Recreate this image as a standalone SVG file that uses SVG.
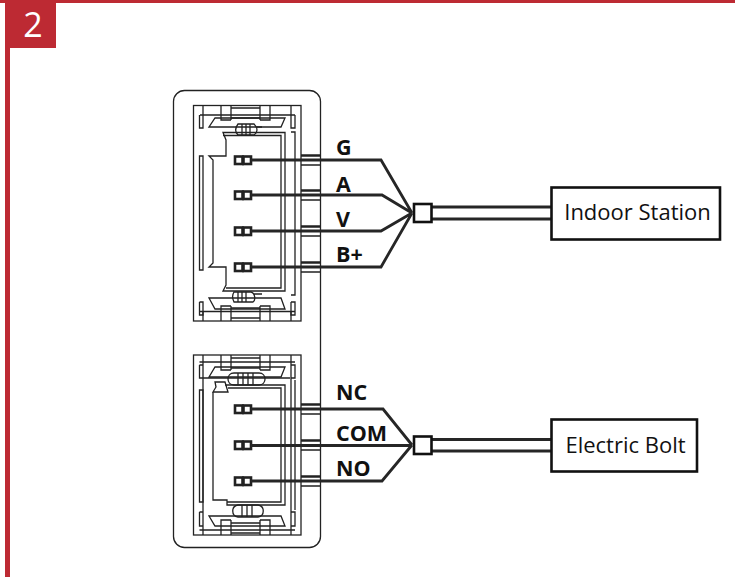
<svg xmlns="http://www.w3.org/2000/svg" width="735" height="577" viewBox="0 0 735 577">
<style>
.l{fill:none;stroke:#222;stroke-width:1.3}
.w{fill:none;stroke:#262626;stroke-width:2.8;stroke-linejoin:miter}
.p{fill:#fff;stroke:#222;stroke-width:2.6}
.b{fill:#fff;stroke:#111;stroke-width:2.6}
.t{font-family:"Open Sans","Noto Sans",sans-serif;fill:#111}
.s{font-size:21.500px;font-weight:700}
.n{font-size:22px}
</style>
<defs>
<g id="pin">
<rect class="p" x="235" y="-3.500" width="7.500" height="7.500"/>
<rect class="p" x="243.500" y="-3.500" width="7.500" height="7.500"/>
<path d="M301 -5H320M301 5H320M301 -4H320" class="l"/>
</g>
</defs>
<g id="header">
<rect x="0" y="0" width="735" height="3" fill="#bd2a33"/>
<rect x="5" y="0" width="5" height="577" fill="#bd2a33"/>
<rect x="5" y="0" width="51" height="48" fill="#bd2a33"/>
<text x="33" y="37" text-anchor="middle" font-family="Open Sans,sans-serif" font-size="34" fill="#fff">2</text>
</g>
<g id="housing">
<rect class="l" x="173.500" y="90.500" width="147" height="457" rx="11"/>
</g>
<g id="connector-top" class="l">
<rect x="193.500" y="105.500" width="107.500" height="215.500"/>
<path d="M203 105.500V115H291V105.500M203 321V311.500H291V321M200 115H295M200 311.500H295"/>
<path d="M199.500 115V128H203V115M291 115V128H295V115M199.500 302V315H203V302H199.500M291 302V315H295V302H291"/>
<path d="M199.500 156V270H203V156ZM291 132H295V295H291"/>
<path d="M221 105.500V120H231M260 120H270V105.500M260 105.500V120M231 105.500V120M231 108H260V118H231ZM221 321V306H231M260 306H270V321M260 321V306M231 321V306M231 318H260V308H231Z"/>
<path d="M209 127H281L285 118H215ZM209 298H281L285 309H215Z"/>
<path d="M238 124H254C258 128 258 132 254 135H238C235 132 235 128 238 124ZM242 124V135M246 124V135M250 124V135M257 127H262"/>
<path d="M234 292H251C255 293 256 300 253 302H234C232 298 232 295 234 292ZM238 292V302M242 292V302M246 292V302M254 294H262"/>
<path d="M223 132.500H285V291H223L226 285V267H209L213 263V160L209 156H226V140ZM223 135.500H281V288H226"/>
</g>
<g id="connector-bottom" class="l">
<rect x="193.500" y="355" width="107.500" height="180"/>
<path d="M203 355V535M291 355V535M199.500 362H295M199.500 530H295"/>
<path d="M199.500 365V378H203M199.500 365H203M291 365H295V378H291M199.500 512V526H203M199.500 512H203M291 512H295V526H291M203 378H290"/>
<path d="M199.500 390V502H203V390ZM295 380V510"/>
<path d="M221 355V370H231M260 370H270V355M260 355V370M231 355V370M231 358H260V368H231ZM221 535V520H231M260 520H270V535M260 535V520M231 535V520M231 533H260V523H231Z"/>
<path d="M209 377H281L285 367H215ZM209 516H281L285 526H215Z"/>
<path d="M234 373H259C267 373 267 385 259 385H234C226 385 226 373 234 373ZM238 373V385M243 373V385M248 373V385M253 373V385"/>
<path d="M238 505H258C265 506 265 516 258 517H238C231 516 231 506 238 505ZM242 505V517M247 505V517M252 505V517"/>
<path d="M215 382H225L228 392H213L216 387ZM225 385H285V505H227V500H213V392M228 388H281V502H227"/>
</g>
<g id="connectors">
<use href="#pin" x="0" y="160"/>
<use href="#pin" x="0" y="195"/>
<use href="#pin" x="0" y="231"/>
<use href="#pin" x="0" y="267"/>
<use href="#pin" x="0" y="409"/>
<use href="#pin" x="0" y="445"/>
<use href="#pin" x="0" y="481"/>
<path class="w" d="M251 160H381L412 213M251 195H382L412 213M251 231H381L412 213M251 267H381L412 213"/>
<path class="w" d="M251 409H383L412 445M251 445.500H412M251 481H382L412 445"/>
<path class="w" d="M431 207H552M431 219H552M431 439.500H552M431 451H552"/>
</g>
<g id="junction-1"><rect class="b" x="414" y="204" width="17.500" height="18"/></g>
<g id="junction-2"><rect class="b" x="414" y="436.500" width="17.500" height="17.500"/></g>
<g id="indoor-station"><rect class="b" x="551.500" y="187.500" width="168.500" height="52"/>
<text class="t n" x="637.500" y="220" text-anchor="middle">Indoor Station</text></g>
<g id="electric-bolt"><rect class="b" x="551.500" y="419.500" width="145.500" height="52"/>
<text class="t n" x="625.500" y="453" text-anchor="middle">Electric Bolt</text></g>
<g id="labels">
<text class="t s" x="336" y="155">G</text>
<text class="t s" x="336" y="192">A</text>
<text class="t s" x="336" y="227">V</text>
<text class="t s" x="336" y="262">B+</text>
<text class="t s" x="336" y="400">NC</text>
<text class="t s" x="336" y="441">COM</text>
<text class="t s" x="336" y="476">NO</text>
</g>
</svg>
